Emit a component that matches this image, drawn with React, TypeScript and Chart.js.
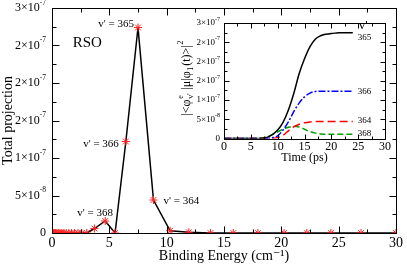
import React, { useEffect, useRef } from "react";
import { Chart, registerables } from "chart.js";
Chart.register(...registerables);

// ---------- main chart data ----------
const bindingEnergy = [
  0.0, 0.05, 0.12, 0.2, 0.3, 0.42, 0.55, 0.7, 0.86, 1.04, 1.24, 1.46, 1.7, 1.97, 2.27, 2.6, 3.03,
  3.7, 4.64, 5.5, 6.44, 7.5, 8.85, 10.3, 11.93, 13.82, 15.81, 17.96, 20.24, 22.22, 24.32, 26.95, 30.0,
];
const totalProjection = [
  0, 0, 0, 0, 0, 0, 0, 0, 0, 0, 0, 0, 0, 0, 0, 0, 0,
  0.6e-8, 1.6e-8, 0, 12.2e-8, 27.4e-8, 4.4e-8, 0.3e-8, 0.1e-8, 0, 0, 0, 0, 0, 0, 0, 0,
];
const yTickValues = [0, 5e-8, 1e-7, 1.5e-7, 2e-7, 2.5e-7, 3e-7];
// tick labels as printed in the figure: mantissa part and exponent part
const yTickBase = ["0", "5×10", "1×10", "2×10", "2×10", "2×10", "3×10"];
const yTickExp = ["", "-8", "-7", "-7", "-7", "-7", "-7"];
const xTickValues = [0, 5, 10, 15, 20, 25, 30];
const levelLabelText = ["v' = 365", "v' = 366", "v' = 364", "v' = 368"];
const levelLabelEnergy = [7.5, 6.44, 8.85, 4.64];
const mainTag = "RSO";

// ---------- inset data ----------
const timePs = [0, 1, 2, 3, 4, 5, 6, 7, 8, 9, 10, 11, 12, 13, 14, 15, 16, 17, 18, 19, 20, 21, 22, 23, 24];
const pop365 = [0, 0, 0, 0, 0, 0, 0, 0.005e-7, 0.03e-7, 0.1e-7, 0.22e-7, 0.42e-7, 0.74e-7, 1.17e-7, 1.68e-7, 2.07e-7, 2.38e-7, 2.58e-7, 2.67e-7, 2.71e-7, 2.73e-7, 2.74e-7, 2.75e-7, 2.75e-7, 2.75e-7];
const pop366 = [0, 0, 0, 0, 0, 0, 0, 0, 0.005e-7, 0.02e-7, 0.07e-7, 0.22e-7, 0.43e-7, 0.7e-7, 0.92e-7, 1.08e-7, 1.18e-7, 1.22e-7, 1.23e-7, 1.23e-7, 1.23e-7, 1.23e-7, 1.23e-7, 1.23e-7, 1.23e-7];
const pop364 = [0, 0, 0, 0, 0, 0, 0, 0, 0, 0.005e-7, 0.02e-7, 0.08e-7, 0.2e-7, 0.3e-7, 0.37e-7, 0.41e-7, 0.43e-7, 0.44e-7, 0.44e-7, 0.44e-7, 0.44e-7, 0.44e-7, 0.44e-7, 0.44e-7, 0.44e-7];
const pop368 = [0, 0, 0, 0, 0, 0, 0, 0.01e-7, 0.04e-7, 0.1e-7, 0.17e-7, 0.24e-7, 0.29e-7, 0.32e-7, 0.3e-7, 0.24e-7, 0.18e-7, 0.14e-7, 0.12e-7, 0.11e-7, 0.11e-7, 0.11e-7, 0.11e-7, 0.11e-7, 0.11e-7];
const insetSeriesNames = ["365", "366", "364", "368"];
const insetLegendTitle = "v'";
const insetXTickValues = [0, 5, 10, 15, 20, 25, 30];

const SERIF = "'Liberation Serif', 'DejaVu Serif', serif";

const frameTicks = {
  id: "frameTicks",
  afterDraw(chart: any, _args: any, opts: any) {
    const { ctx, chartArea, scales } = chart;
    const x = scales.x, y = scales.y;
    const l = Math.round(chartArea.left) + 0.5;
    const r = Math.round(chartArea.right) + 0.5;
    const t = Math.round(chartArea.top) + 0.5;
    const b = Math.round(chartArea.bottom) + 0.5;
    ctx.save();
    ctx.strokeStyle = "#000";
    ctx.lineWidth = 1;
    ctx.strokeRect(l, t, r - l, b - t);
    ctx.beginPath();
    const isMajor = (v: number, m: number) => Math.abs(v / m - Math.round(v / m)) < 1e-6;
    for (let v = x.min; v <= x.max + 1e-9; v += opts.xMinor) {
      const px = Math.round(x.getPixelForValue(v)) + 0.5;
      const len = isMajor(v, opts.xMajor) ? opts.major : opts.minor;
      ctx.moveTo(px, b); ctx.lineTo(px, b - len);
      ctx.moveTo(px, t); ctx.lineTo(px, t + len);
    }
    const n = Math.round((y.max - y.min) / opts.yMinor);
    for (let i = 0; i <= n; i++) {
      const v = y.min + i * opts.yMinor;
      const py = Math.round(y.getPixelForValue(v)) + 0.5;
      const len = i % Math.round(opts.yMajor / opts.yMinor) === 0 ? opts.major : opts.minor;
      ctx.moveTo(l, py); ctx.lineTo(l + len, py);
      ctx.moveTo(r, py); ctx.lineTo(r - len, py);
    }
    ctx.stroke();

    // y tick labels with superscript exponents
    ctx.fillStyle = "#000";
    ctx.textBaseline = "middle";
    ctx.textAlign = "left";
    yTickValues.forEach((v, i) => {
      const py = y.getPixelForValue(v);
      ctx.font = `${opts.labSize}px ${SERIF}`;
      const wb = ctx.measureText(yTickBase[i]).width;
      ctx.font = `${opts.expSize}px ${SERIF}`;
      const we = yTickExp[i] ? ctx.measureText(yTickExp[i]).width : 0;
      const x0 = chartArea.left - opts.labPad - wb - we;
      ctx.font = `${opts.labSize}px ${SERIF}`;
      ctx.fillText(yTickBase[i], x0, py);
      if (yTickExp[i]) {
        ctx.font = `${opts.expSize}px ${SERIF}`;
        ctx.fillText(yTickExp[i], x0 + wb, py - opts.expRise);
      }
    });
    ctx.restore();
  },
};

const mainLabels = {
  id: "mainLabels",
  afterDatasetsDraw(chart: any) {
    const { ctx, scales } = chart;
    const x = scales.x, y = scales.y;
    ctx.save();
    ctx.fillStyle = "#000";
    ctx.font = `15px ${SERIF}`;
    ctx.textAlign = "left";
    ctx.textBaseline = "middle";
    ctx.fillText(mainTag, x.getPixelForValue(1.8), y.getPixelForValue(2.53e-7));
    ctx.font = `11px ${SERIF}`;
    const offs = [
      { dx: -4, dy: -3, align: "right" },
      { dx: -7, dy: 3, align: "right" },
      { dx: 10, dy: 1, align: "left" },
      { dx: -10, dy: -8, align: "center" },
    ];
    levelLabelText.forEach((txt, k) => {
      const i = bindingEnergy.indexOf(levelLabelEnergy[k]);
      const px = x.getPixelForValue(bindingEnergy[i]);
      const py = y.getPixelForValue(totalProjection[i]);
      ctx.textAlign = offs[k].align;
      ctx.fillText(txt, px + offs[k].dx, py + offs[k].dy);
    });
    ctx.restore();
  },
};

type Seg = { t: string; size: number; dy: number; advance?: boolean };
const insetTitleSegs: Seg[] = [
  { t: "|<φ", size: 12, dy: 0 },
  { t: "e", size: 8, dy: -7, advance: false },
  { t: "v'", size: 8, dy: 3 },
  { t: " |μ|φ", size: 12, dy: 0 },
  { t: "1", size: 8, dy: 3 },
  { t: "(t)>|", size: 12, dy: 0 },
  { t: "2", size: 8, dy: -7 },
];

const insetDecor = {
  id: "insetDecor",
  afterDraw(chart: any) {
    const { ctx, scales } = chart;
    const x = scales.x, y = scales.y;
    ctx.save();
    ctx.fillStyle = "#000";
    let w = 0;
    for (const s of insetTitleSegs) {
      ctx.font = `${s.size}px ${SERIF}`;
      if (s.advance !== false) w += ctx.measureText(s.t).width + 0.8;
    }
    ctx.translate(20, (y.top + y.bottom) / 2 - 3);
    ctx.rotate(-Math.PI / 2);
    ctx.textBaseline = "alphabetic";
    ctx.textAlign = "left";
    let cx = -w / 2;
    for (const s of insetTitleSegs) {
      ctx.font = `${s.size}px ${SERIF}`;
      ctx.fillText(s.t, cx, s.dy);
      if (s.advance !== false) cx += ctx.measureText(s.t).width + 0.8;
    }
    ctx.setTransform(1, 0, 0, 1, 0, 0);
    const lastT = timePs[timePs.length - 1];
    const ex = x.getPixelForValue(lastT) + 5;
    const series = [pop365, pop366, pop364, pop368];
    const dys = [5, 0, -1, -1];
    ctx.textAlign = "left";
    ctx.textBaseline = "middle";
    ctx.font = `9px ${SERIF}`;
    series.forEach((s, k) => {
      ctx.fillText(insetSeriesNames[k], ex, y.getPixelForValue(s[s.length - 1]) + dys[k]);
    });
    ctx.font = `13px ${SERIF}`;
    ctx.fillText(insetLegendTitle, ex + 1, y.getPixelForValue(pop365[pop365.length - 1]) - 7);
    ctx.restore();
  },
};

export default function App() {
  const mainRef = useRef<HTMLCanvasElement>(null);
  const insetRef = useRef<HTMLCanvasElement>(null);

  useEffect(() => {
    document.body.style.margin = "0";
    const main = new Chart(mainRef.current!, {
      type: "line",
      data: {
        datasets: [
          {
            data: bindingEnergy.map((e, i) => ({ x: e, y: totalProjection[i] })),
            borderColor: "#000",
            borderWidth: 1.5,
            pointStyle: "star",
            pointRadius: 4,
            pointBorderColor: "#ff2020",
            pointBackgroundColor: "#ff2020",
            pointBorderWidth: 1,
            tension: 0,
          },
        ],
      },
      options: {
        responsive: false,
        animation: false,
        devicePixelRatio: 1,
        layout: { padding: { top: 8, right: 11, left: 0, bottom: 0 } },
        plugins: {
          legend: { display: false },
          tooltip: { enabled: false },
          frameTicks: { xMajor: 5, xMinor: 2.5, yMajor: 5e-8, yMinor: 2.5e-8, major: 7, minor: 4, labSize: 12, expSize: 7.5, expRise: 5, labPad: 6 },
        } as any,
        scales: {
          x: {
            type: "linear",
            min: 0,
            max: 30,
            afterBuildTicks: (s: any) => { s.ticks = xTickValues.map((v) => ({ value: v })); },
            afterFit: (s: any) => { s.height = 34; },
            grid: { display: false, drawTicks: false },
            border: { display: false },
            ticks: { color: "#000", font: { family: SERIF, size: 14 }, padding: 2, maxRotation: 0, callback: (v: any) => String(v) },
            title: { display: true, text: "Binding Energy (cm⁻¹)", color: "#000", font: { family: SERIF, size: 14 }, padding: { bottom: 2, top: 0 } },
          },
          y: {
            type: "linear",
            min: 0,
            max: 3e-7,
            afterBuildTicks: (s: any) => { s.ticks = yTickValues.map((v) => ({ value: v })); },
            afterFit: (s: any) => { s.width = 52; },
            grid: { display: false, drawTicks: false },
            border: { display: false },
            ticks: { display: false },
            title: { display: true, text: "Total projection", color: "#000", font: { family: SERIF, size: 14, lineHeight: 1 }, padding: { top: 1, bottom: 0 } },
          },
        },
      },
      plugins: [frameTicks, mainLabels],
    } as any);

    const insetStyles = [
      { data: pop365, color: "#000000", dash: [] as number[] },
      { data: pop366, color: "#0000ff", dash: [7, 2, 2, 2] },
      { data: pop364, color: "#ff0000", dash: [8, 4] },
      { data: pop368, color: "#00a000", dash: [6, 3] },
    ];
    const inset = new Chart(insetRef.current!, {
      type: "line",
      data: {
        datasets: insetStyles.map((s) => ({
          data: timePs.map((t, i) => ({ x: t, y: s.data[i] })),
          borderColor: s.color,
          borderDash: s.dash,
          borderWidth: 1.5,
          pointRadius: 0,
          cubicInterpolationMode: "monotone",
        })),
      },
      options: {
        responsive: false,
        animation: false,
        devicePixelRatio: 1,
        layout: { padding: { top: 11, right: 10, left: 0, bottom: 0 } },
        plugins: {
          legend: { display: false },
          tooltip: { enabled: false },
          frameTicks: { xMajor: 5, xMinor: 2.5, yMajor: 5e-8, yMinor: 2.5e-8, major: 5, minor: 3, labSize: 9, expSize: 6, expRise: 3.5, labPad: 4 },
        } as any,
        scales: {
          x: {
            type: "linear",
            min: 0,
            max: 30,
            afterBuildTicks: (s: any) => { s.ticks = insetXTickValues.map((v) => ({ value: v })); },
            afterFit: (s: any) => { s.height = 25.5; },
            grid: { display: false, drawTicks: false },
            border: { display: false },
            ticks: { color: "#000", font: { family: SERIF, size: 12 }, padding: 1, maxRotation: 0, callback: (v: any) => String(v) },
            title: { display: true, text: "Time (ps)", color: "#000", font: { family: SERIF, size: 12, lineHeight: 1 }, padding: 0 },
          },
          y: {
            type: "linear",
            min: 0,
            max: 3e-7,
            afterBuildTicks: (s: any) => { s.ticks = yTickValues.map((v) => ({ value: v })); },
            afterFit: (s: any) => { s.width = 54; },
            grid: { display: false, drawTicks: false },
            border: { display: false },
            ticks: { display: false },
          },
        },
      },
      plugins: [frameTicks, insetDecor],
    } as any);

    return () => {
      main.destroy();
      inset.destroy();
    };
  }, []);

  return (
    <div style={{ position: "fixed", left: 0, top: 0, width: 407, height: 267, background: "#fff" }}>
      <canvas ref={mainRef} width={407} height={267} style={{ position: "absolute", left: 0, top: 0 }} />
      <canvas ref={insetRef} width={225} height={152} style={{ position: "absolute", left: 170, top: 12 }} />
    </div>
  );
}
